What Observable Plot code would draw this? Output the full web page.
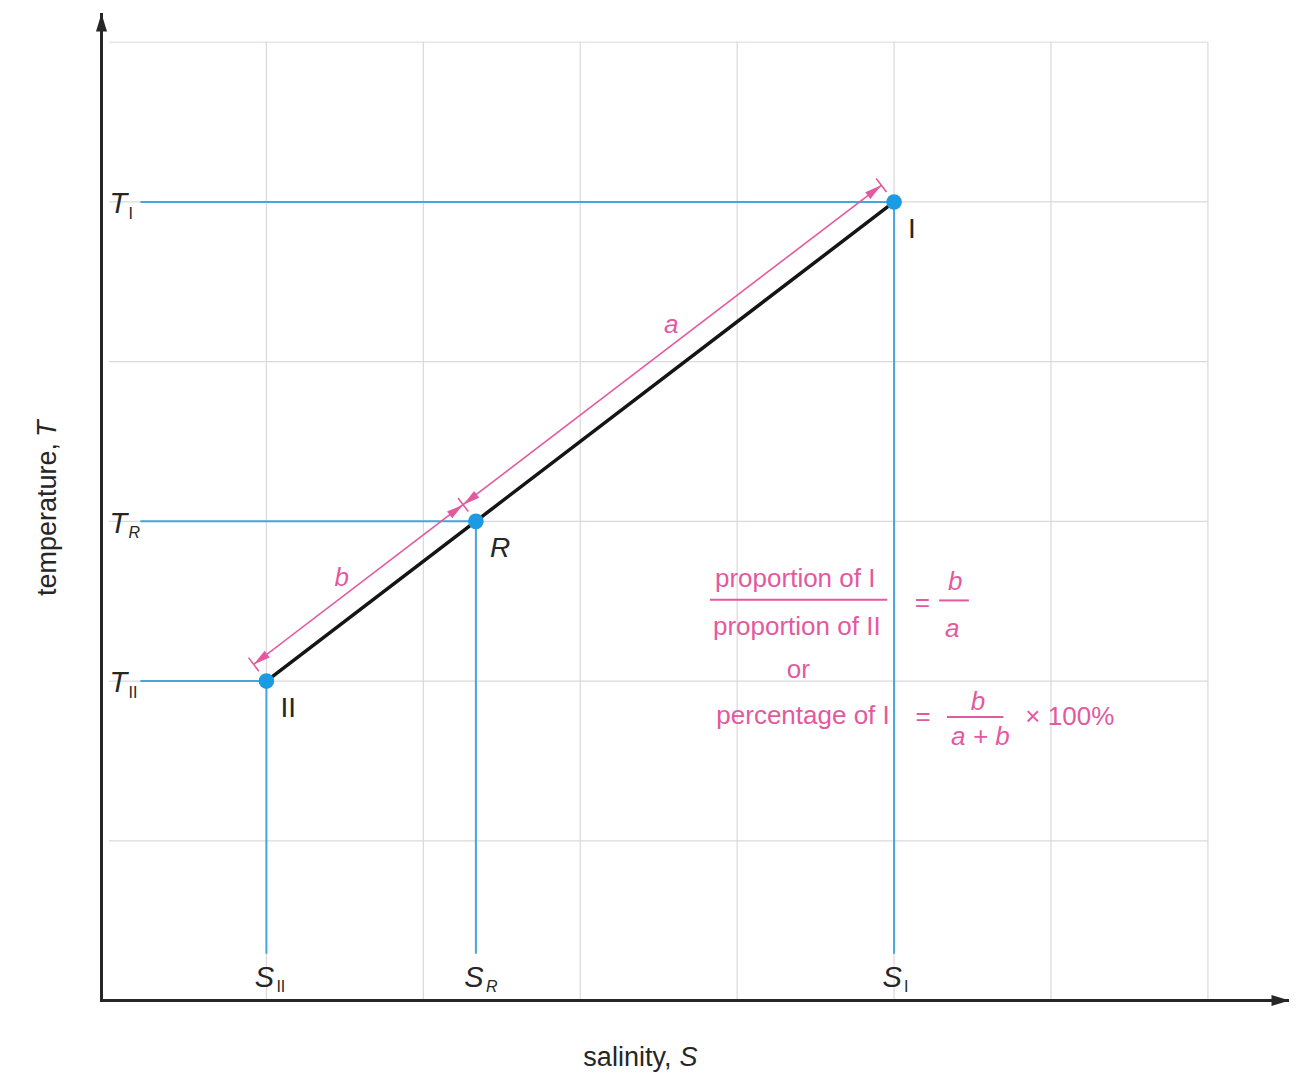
<!DOCTYPE html>
<html><head><meta charset="utf-8">
<script src="https://cdn.jsdelivr.net/npm/d3@7"></script>
<script src="https://cdn.jsdelivr.net/npm/@observablehq/plot@0.6"></script>
<style>
html,body{margin:0;padding:0;background:#fff;}
#chart svg{display:block}
</style></head><body><div id="chart"></div>
<script>
// ---------- data ----------
const pointNames = ["I", "R", "II"];
const italicNames = ["R"];
const salinity = [5, 2.335, 1];
const temperature = [5, 3, 2];
const gridS = [1, 2, 3, 4, 5, 6, 7];
const gridT = [1, 2, 3, 4, 5, 6];
const xTitle = ["salinity,", "S"];
const yTitle = ["temperature,", "T"];
const segNames = ["a", "b"];
const eqTexts = ["proportion of I", "proportion of II", "or", "percentage of I", "=", "=", "× 100%"];
const eqLetters = ["b", "a", "b", "a + b"];

// ---------- layout ----------
const W = 1308, H = 1080;
const mL = 109, mR = 19, mT = 13, mB = 80;
const xMax = 7.52, yMax = 6.18;
const pink = "#e3599f", dotBlue = "#1b9be3", lineBlue = "#48a5dc", gridC = "#dcd7db", ink = "#262626";
const font = "'Liberation Sans', Arial, Helvetica, sans-serif";

const pts = pointNames.map((n, i) => ({name: n, S: salinity[i], T: temperature[i], it: italicNames.includes(n)}));
const [pI, pR, pII] = pts;
const isIt = d => d.it, notIt = d => !d.it;

// direction of the mixing line in screen space
const kx = (W - mL - mR) / xMax, ky = (H - mT - mB) / yMax;
const ddx = (pI.S - pII.S) * kx, ddy = -(pI.T - pII.T) * ky;
const theta = Math.atan2(ddx, -ddy) * 180 / Math.PI; // clockwise from north
const th = theta * Math.PI / 180;
const off = 21;
const ox = -Math.cos(th) * off, oy = -Math.sin(th) * off;

const arrowSym = (L, w) => ({draw(ctx) { ctx.moveTo(0, 0); ctx.lineTo(-w / 2, L); ctx.lineTo(w / 2, L); ctx.closePath(); }});
const tickSym = (L) => ({draw(ctx) { ctx.moveTo(-L / 2, 0); ctx.lineTo(L / 2, 0); }});

const segs = [
  {name: segNames[0], lx: 3.58, ly: 4.23},
  {name: segNames[1], lx: 1.48, ly: 2.65}
];

const eqText = [
  {t: eqTexts[0], x: 4.37, y: 2.64},
  {t: eqTexts[1], x: 4.38, y: 2.34},
  {t: eqTexts[2], x: 4.39, y: 2.07},
  {t: eqTexts[3], x: 4.42, y: 1.785},
  {t: eqTexts[4], x: 5.18, y: 2.49},
  {t: eqTexts[5], x: 5.185, y: 1.775},
  {t: eqTexts[6], x: 6.12, y: 1.775}
];
const eqItal = [
  {t: eqLetters[0], x: 5.39, y: 2.62},
  {t: eqLetters[1], x: 5.37, y: 2.33},
  {t: eqLetters[2], x: 5.535, y: 1.87},
  {t: eqLetters[3], x: 5.55, y: 1.65}
];
const eqBars = [
  {x1: 3.83, x2: 4.96, y: 2.51},
  {x1: 5.29, x2: 5.48, y: 2.505},
  {x1: 5.34, x2: 5.70, y: 1.775}
];

const subT = {x: 0, y: "T", text: "name", dx: 19, dy: 12, textAnchor: "start", fontSize: 16, fill: ink};
const subS = {x: "S", y: 0, text: "name", dx: 10, dy: -14, textAnchor: "start", fontSize: 16, fill: ink};
const ptLab = {x: "S", y: "T", text: "name", dx: 14, dy: 27, textAnchor: "start", fill: ink, fontSize: 28};

const chart = Plot.plot({
  width: W, height: H,
  marginLeft: mL, marginRight: mR, marginTop: mT, marginBottom: mB,
  x: {domain: [0, xMax], axis: null},
  y: {domain: [0, yMax], axis: null},
  style: {fontFamily: font, background: "#fff"},
  marks: [
    // grid
    Plot.ruleX(gridS, {x: d => d, y1: 0, y2: 6, stroke: gridC, strokeWidth: 1.2}),
    Plot.ruleY(gridT, {y: d => d, x1: 0, x2: 7, stroke: gridC, strokeWidth: 1.2}),
    // blue projection lines
    Plot.ruleY(pts, {y: "T", x1: 0.2, x2: "S", stroke: lineBlue, strokeWidth: 2}),
    Plot.ruleX(pts, {x: "S", y1: 0.29, y2: "T", stroke: lineBlue, strokeWidth: 2}),
    // mixing line
    Plot.line([pII, pI], {x: "S", y: "T", stroke: "#151515", strokeWidth: 3.5}),
    // pink dimension line
    Plot.link([{a: pII, b: pI}], {x1: d => d.a.S, y1: d => d.a.T, x2: d => d.b.S, y2: d => d.b.T, dx: ox, dy: oy, stroke: pink, strokeWidth: 1.6}),
    Plot.dot([pI, pR], {x: "S", y: "T", dx: ox, dy: oy, symbol: arrowSym(17, 8.5), fill: pink, stroke: "none", rotate: theta}),
    Plot.dot([pR, pII], {x: "S", y: "T", dx: ox, dy: oy, symbol: arrowSym(17, 8.5), fill: pink, stroke: "none", rotate: theta + 180}),
    Plot.dot(pts, {x: "S", y: "T", dx: ox, dy: oy, symbol: tickSym(17), fill: "none", stroke: pink, strokeWidth: 1.6, rotate: theta}),
    Plot.text(segs, {x: "lx", y: "ly", text: "name", fill: pink, fontSize: 26, fontStyle: "italic"}),
    // points
    Plot.dot(pts, {x: "S", y: "T", r: 7.8, fill: dotBlue, stroke: "none"}),
    Plot.text(pts, {...ptLab, filter: notIt}),
    Plot.text(pts, {...ptLab, filter: isIt, fontStyle: "italic"}),
    // axes
    Plot.ruleY([0], {insetLeft: -9, stroke: ink, strokeWidth: 3}),
    Plot.ruleX([0], {dx: -8, stroke: ink, strokeWidth: 3}),
    Plot.dot([{x: 0, y: yMax}], {x: "x", y: "y", dx: -8, symbol: arrowSym(18, 11), fill: ink, stroke: "none"}),
    Plot.dot([{x: xMax, y: 0}], {x: "x", y: "y", symbol: arrowSym(18, 11), fill: ink, stroke: "none", rotate: 90}),
    // T labels
    Plot.text(pts, {x: 0, y: "T", text: () => yTitle[1], dx: 0, dy: 2, textAnchor: "start", fontStyle: "italic", fontSize: 29, fill: ink}),
    Plot.text(pts, {...subT, filter: notIt}),
    Plot.text(pts, {...subT, filter: isIt, fontStyle: "italic"}),
    // S labels
    Plot.text(pts, {x: "S", y: 0, text: () => xTitle[1], dx: -2, dy: -23, textAnchor: "middle", fontStyle: "italic", fontSize: 29, fill: ink}),
    Plot.text(pts, {...subS, filter: notIt}),
    Plot.text(pts, {...subS, filter: isIt, fontStyle: "italic"}),
    // axis titles
    Plot.text([xTitle[0]], {x: 3.6, y: 0, text: d => d, dx: -3, dy: 57, textAnchor: "end", fontSize: 27, fill: ink}),
    Plot.text([xTitle[1]], {x: 3.6, y: 0, text: d => d, dx: 5, dy: 57, textAnchor: "start", fontSize: 27, fontStyle: "italic", fill: ink}),
    Plot.text([yTitle[0]], {frameAnchor: "left", text: d => d, dx: -62, dy: 89, rotate: -90, textAnchor: "start", fontSize: 27, fill: ink}),
    Plot.text([yTitle[1]], {frameAnchor: "left", text: d => d, dx: -62, dy: -70, rotate: -90, textAnchor: "start", fontSize: 27, fontStyle: "italic", fill: ink}),
    // equation
    Plot.text(eqText, {x: "x", y: "y", text: "t", fill: pink, fontSize: 26}),
    Plot.text(eqItal, {x: "x", y: "y", text: "t", fill: pink, fontSize: 26, fontStyle: "italic"}),
    Plot.ruleY(eqBars, {y: "y", x1: "x1", x2: "x2", stroke: pink, strokeWidth: 2})
  ]
});
document.getElementById("chart").appendChild(chart);
</script></body></html>
